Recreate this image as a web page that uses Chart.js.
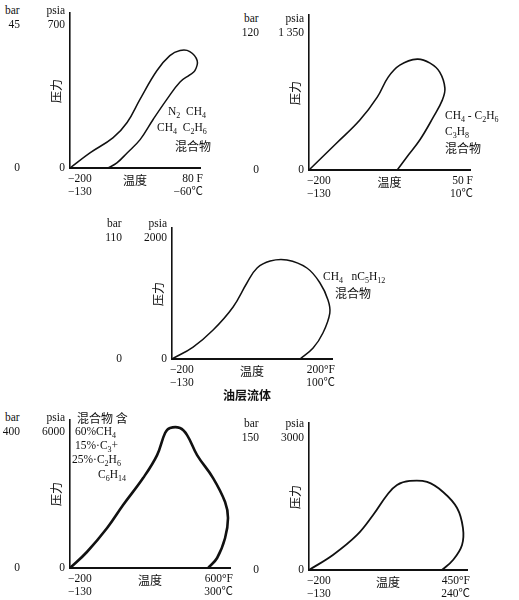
<!DOCTYPE html>
<html>
<head>
<meta charset="utf-8">
<script src="https://cdn.jsdelivr.net/npm/chart.js@4.4.1/dist/chart.umd.min.js"></script>
<style>
  body { margin: 0; background: #fff; }
  #wrap { position: relative; width: 519px; height: 600px; overflow: hidden; }
  canvas { position: absolute; }
  .t { position: absolute; font: 11.5px 'Liberation Serif', 'Noto Sans CJK SC', serif; color: #111; white-space: nowrap; line-height: 1; }
  .zh { font-family: 'Noto Sans CJK SC', sans-serif; font-size: 12px; }
  .big { font-size: 12px; font-weight: bold; }
  sub { font-size: 8px; vertical-align: -3px; line-height: 0; }
</style>
</head>
<body>
<div id="wrap"></div>
<script>
// phase envelopes, temperature in °F, pressure in psia
const temp1  = [-200, -157, -107, -77, -49, -13, 15, 37, 58, 74, 69, 58, 37, 9, -21, -49, -77, -99, -118];
const press1 = [0, 74, 149, 223, 338, 477, 551, 576, 571, 526, 477, 457, 422, 338, 238, 139, 74, 25, 0];

const temp2  = [-200, -157, -121, -94, -77, -59, -32, -12, 3, 11, 7, -7, -28, -48, -63];
const press2 = [0, 355, 657, 959, 1222, 1380, 1459, 1406, 1288, 1077, 920, 696, 394, 171, 0];

const temp3  = [-200, -142, -87, -32, 6, 34, 70, 116, 171, 207, 229, 234, 215, 188, 152];
const press3 = [0, 198, 479, 860, 1256, 1504, 1620, 1636, 1504, 1256, 975, 760, 430, 182, 0];

const temp4  = [-200, -107, 4, 92, 202, 279, 323, 350, 405, 444, 499, 587, 653, 669, 653, 609, 559];
const press4 = [0, 706, 1764, 2778, 3969, 4983, 5954, 6174, 6174, 5865, 4983, 3969, 2911, 2205, 1323, 441, 0];

const temp5  = [-200, -94, 13, 84, 146, 190, 247, 323, 394, 456, 482, 478, 438, 389];
const press5 = [0, 341, 796, 1250, 1705, 1932, 2023, 2000, 1773, 1409, 955, 568, 227, 0];

// axis labels
const barTop   = ['45', '120', '110', '400', '150'];
const psiaTop  = [700, 1800, 2000, 6000, 3000];
const psiaText = ['700', '1 350', '2000', '6000', '3000'];
const fLeft = '−200', cLeft = '−130';
const fRight = ['80 F', '50 F', '200°F', '600°F', '450°F'];
const cRight = ['−60℃', '10℃', '100℃', '300℃', '240℃'];
const xMax = [80, 50, 240, 680, 500];
const yMax = [760, 2040, 2165, 6530, 3340];

const mixText = [
  ['N<sub>2</sub>&nbsp; CH<sub>4</sub>', 'CH<sub>4</sub>&nbsp; C<sub>2</sub>H<sub>6</sub>', '混合物'],
  ['CH<sub>4</sub> - C<sub>2</sub>H<sub>6</sub>', 'C<sub>3</sub>H<sub>8</sub>', '混合物'],
  ['CH<sub>4</sub>&nbsp;&nbsp; nC<sub>5</sub>H<sub>12</sub>', '混合物'],
  ['混合物 含', '60%CH<sub>4</sub>', '15%·C<sub>3</sub>+', '25%·C<sub>2</sub>H<sub>6</sub>', 'C<sub>6</sub>H<sub>14</sub>'],
  []
];

// layout: plot box of each sketch in page pixels, and note positions
const boxes = [
  { l: 70,  t: 13,  r: 200, b: 168 },
  { l: 309, t: 15,  r: 470, b: 170 },
  { l: 172, t: 228, r: 332, b: 359 },
  { l: 70,  t: 420, r: 230, b: 568 },
  { l: 309, t: 423, r: 467, b: 570 },
];
const mixPos = [
  [[168, 112], [157, 128], [175, 146]],
  [[445, 116], [445, 132], [445, 148]],
  [[323, 277], [335, 293]],
  [[77, 418], [75, 432], [75, 446], [72, 460], [98, 475]],
  []
];
const series = [
  { temps: temp1, press: press1, lw: 1.5 },
  { temps: temp2, press: press2, lw: 1.6 },
  { temps: temp3, press: press3, lw: 1.5 },
  { temps: temp4, press: press4, lw: 2.6 },
  { temps: temp5, press: press5, lw: 1.8 },
];

const ink = '#111';
const wrap = document.getElementById('wrap');

function label(html, x, y, align, cls, rot) {
  const d = document.createElement('div');
  d.className = 't' + (cls ? ' ' + cls : '');
  d.innerHTML = html;
  const tx = align === 'right' ? '-100%' : align === 'center' ? '-50%' : '0';
  d.style.left = x + 'px';
  d.style.top = y + 'px';
  d.style.transform = `translate(${tx},-50%)` + (rot ? ' rotate(-90deg)' : '');
  wrap.appendChild(d);
}

series.forEach((s, i) => {
  const bx = boxes[i], pad = 6;
  const w = bx.r - bx.l + pad * 2, h = bx.b - bx.t + pad * 2;
  const cv = document.createElement('canvas');
  cv.width = w; cv.height = h;
  cv.style.left = (bx.l - pad) + 'px';
  cv.style.top = (bx.t - pad) + 'px';
  cv.style.width = w + 'px';
  cv.style.height = h + 'px';
  wrap.appendChild(cv);

  const chart = new Chart(cv, {
    type: 'scatter',
    data: {
      datasets: [{
        data: s.temps.map((t, k) => ({ x: t, y: s.press[k] })),
        showLine: true, borderColor: ink, borderWidth: s.lw,
        pointRadius: 0, tension: 0.4, fill: false, clip: false,
      }],
    },
    options: {
      responsive: false, animation: false, events: [],
      layout: { padding: pad },
      plugins: { legend: { display: false }, tooltip: { enabled: false } },
      scales: {
        x: { type: 'linear', min: -200, max: xMax[i],
             grid: { display: false, drawTicks: false }, ticks: { display: false },
             border: { color: ink, width: 2 } },
        y: { type: 'linear', min: 0, max: yMax[i],
             grid: { display: false, drawTicks: false }, ticks: { display: false },
             border: { color: ink, width: 1.6 } },
      },
    },
  });

  const ox = bx.l - pad, oy = bx.t - pad;
  const X = v => ox + chart.scales.x.getPixelForValue(v);
  const Y = v => oy + chart.scales.y.getPixelForValue(v);
  const left = X(-200), right = X(xMax[i]), base = Y(0), topV = Y(psiaTop[i]);

  // pressure axis
  label('bar', left - 65, topV - 14, 'left');
  label('psia', left - 5, topV - 14, 'right');
  label(barTop[i], left - 50, topV, 'right');
  label(psiaText[i], left - 5, topV, 'right');
  label('0', left - 50, base, 'right');
  label('0', left - 5, base, 'right');
  label('压力', left - 14, (bx.t + bx.b) / 2, 'center', 'zh', true);

  // temperature axis
  label(fLeft, left - 2, base + 11, 'left');
  label(cLeft, left - 2, base + 24, 'left');
  label('温度', (left + right) / 2, base + 12, 'center', 'zh');
  label(fRight[i], right + 3, base + 11, 'right');
  label(cRight[i], right + 3, base + 24, 'right');
  if (i === 2) label('油层流体', (left + right) / 2 - 5, base + 36, 'center', 'zh big');

  mixText[i].forEach((txt, k) => {
    const [px, py] = mixPos[i][k];
    label(txt, px, py, 'left', /[\u4e00-\u9fff]/.test(txt) ? 'zh' : '');
  });
});
</script>
</body>
</html>
